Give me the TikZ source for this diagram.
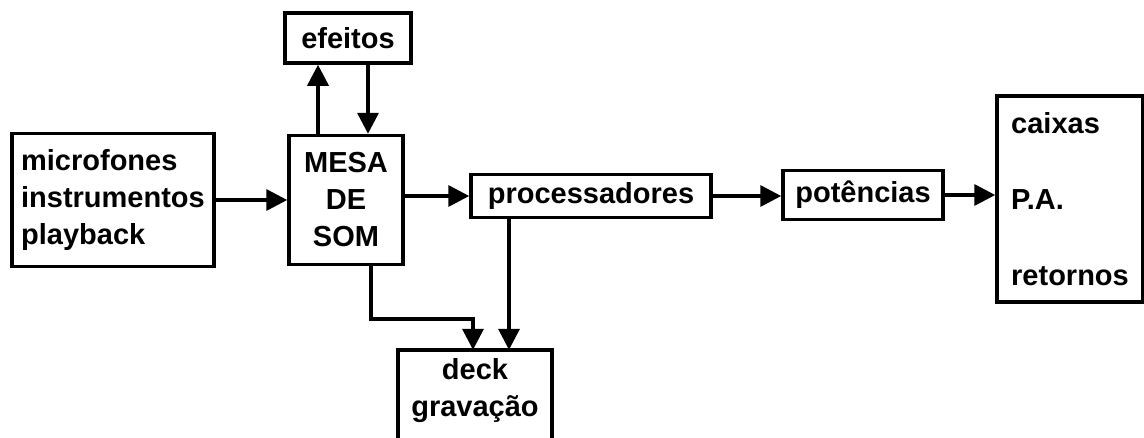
\documentclass[tikz,border=0pt]{standalone}
\usepackage{fontspec}
\setmainfont{Liberation Sans}
\usetikzlibrary{arrows.meta}

\begin{document}
\begin{tikzpicture}[x=1pt, y=-1pt,
  every node/.style={font=\bfseries\fontsize{29}{37}\selectfont, inner sep=0pt},
  bloco/.style={draw, line width=3.5pt},
  seta/.style={draw, line width=3.5pt, -{Triangle[length=21pt, width=21pt]}}]

  \clip (0,0) rectangle (1144,437);
  \fill[white] (0,0) rectangle (1144,437);

  \node[bloco, minimum width=202pt, minimum height=133pt, align=left] (src) at (113,200) {microfones\\instrumentos\\playback};
  \node[bloco, minimum width=114pt, minimum height=129pt, align=center] (mesa) at (346,200) {MESA\\DE\\SOM};
  \node[bloco, minimum width=126pt, minimum height=50pt] (efeitos) at (348,38) {efeitos};
  \node[bloco, minimum width=240pt, minimum height=43pt] (proc) at (591,196) {processadores};
  \node[bloco, minimum width=160pt, minimum height=49pt] (pot) at (863,195) {potências};
  \node[bloco, minimum width=146pt, minimum height=206pt, align=left] (pa) at (1070,199) {caixas\\[39pt]P.A.\\[39pt]retornos};
  \node[minimum width=154pt, minimum height=82pt, align=center] (deck) at (475,391) {deck\\gravação};
  \draw[line width=3.5pt] ([yshift=-20pt]deck.south west) -- (deck.north west)
    -- (deck.north east) -- ([yshift=-20pt]deck.south east);

  \coordinate (dobra) at (473,319);

  \path[seta] (src.east) -- (src.east -| mesa.west);
  \path[seta] ([xshift=-28pt]mesa.north) -- ([xshift=-28pt]mesa.north |- efeitos.south);
  \path[seta] ([xshift=20pt]efeitos.south) -- ([xshift=20pt]efeitos.south |- mesa.north);
  \path[seta] (mesa.east |- proc) -- (proc.west);
  \path[seta] (proc.east) -- (proc.east -| pot.west);
  \path[seta] (pot.east) -- (pot.east -| pa.west);
  \path[seta] ([xshift=25pt]mesa.south) |- (dobra) -- (dobra |- deck.north);
  \path[seta] ([xshift=-82pt]proc.south) -- ([xshift=-82pt]proc.south |- deck.north);

\end{tikzpicture}
\end{document}
